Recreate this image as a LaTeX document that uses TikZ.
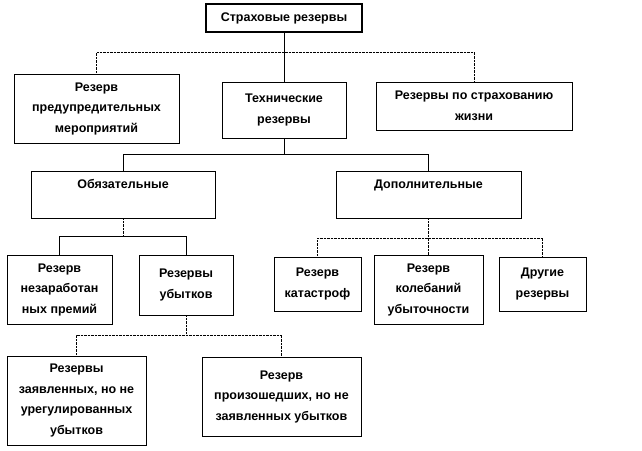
\documentclass[tikz,border=0pt]{standalone}
\usepackage{fontspec}
\setmainfont{Liberation Sans}
\usetikzlibrary{shadows}
\tikzset{
    font=\fontsize{12.5}{20.5}\selectfont\bfseries,
    box/.style={draw,thin,fill=white,align=center,anchor=north west,inner sep=2pt,outer sep=0pt,
        drop shadow={shadow xshift=1.3pt,shadow yshift=-1.3pt,fill=black!55,opacity=.6}},
    root box/.style={box,line width=1.8pt},
    link/.style={thin},
    dotlink/.style={thin,densely dotted}
}
\begin{document}
\begin{tikzpicture}[x=1pt,y=-1pt]
    \useasboundingbox (0,0) rectangle (642,450);
    \node[root box, minimum width=156pt, minimum height=28pt] (root) at (206,4) {Страховые резервы};
    \node[box, minimum width=165pt, minimum height=69pt] (prev) at (14,74) {Резерв\\предупредительных\\мероприятий};
    \node[box, minimum width=124pt, minimum height=56pt] (tech) at (222,82) {Технические\\резервы};
    \node[box, minimum width=196pt, minimum height=48pt] (life) at (376,82) {Резервы по страхованию\\жизни};
    \node[box, minimum width=184pt, minimum height=47pt] (oblig) at (31,171) {Обязательные\\~};
    \node[box, minimum width=185pt, minimum height=47pt] (dop) at (336,171) {Дополнительные\\~};
    \node[box, minimum width=105pt, minimum height=69pt] (nez) at (7,255) {Резерв\\незаработан\\ных премий};
    \node[box, minimum width=94pt, minimum height=60pt] (ubyt) at (139,255) {Резервы\\убытков};
    \node[box, minimum width=87pt, minimum height=54pt] (kat) at (274,257) {Резерв\\катастроф};
    \node[box, minimum width=109pt, minimum height=69pt] (kol) at (374,255) {Резерв\\колебаний\\убыточности};
    \node[box, minimum width=87pt, minimum height=54pt] (dr) at (499,257) {Другие\\резервы};
    \node[box, minimum width=139pt, minimum height=89pt] (zayav) at (7,356) {Резервы\\заявленных, но не\\урегулированных\\убытков};
    \node[box, minimum width=159pt, minimum height=79pt] (proiz) at (202,357) {Резерв\\произошедших, но не\\заявленных убытков};
    % connectors
    \draw[link] (root) -- (tech);
    \draw[dotlink] (prev.north) -- ++(0,-22) -| (life.north);
    \draw[link] (tech.south) -- ++(0,16) -| (oblig.north);
    \draw[link] (tech.south) -- ++(0,16) -| (dop.north);
    \draw[dotlink] (oblig.south) -- ++(0,18);
    \draw[link] (nez.north) -- ++(0,-19) -| (ubyt.north);
    \draw[dotlink] (dop) -- (kol);
    \draw[dotlink] (kat.north) -- ++(0,-19) -| (dr.north);
    \draw[dotlink] (ubyt.south) -- ++(0,20);
    \draw[dotlink] (zayav.north) -- ++(0,-21) -| (proiz.north);
\end{tikzpicture}
\end{document}
